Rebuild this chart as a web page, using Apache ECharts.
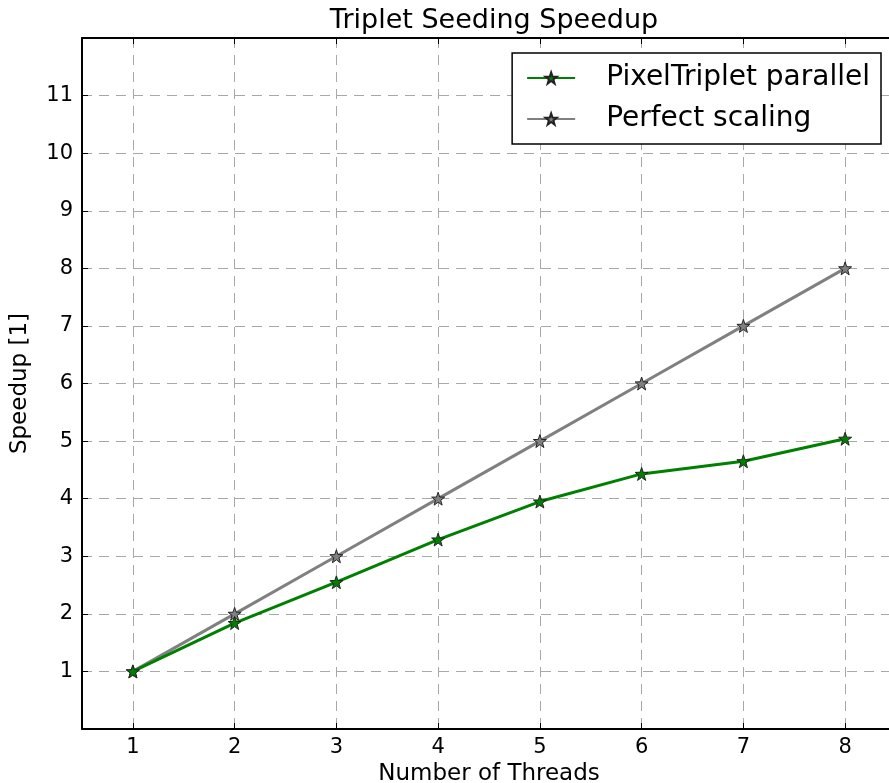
<!DOCTYPE html>
<html>
<head>
<meta charset="utf-8">
<script src="https://cdn.jsdelivr.net/npm/echarts@6/dist/echarts.min.js"></script>
<style>
  html, body { margin: 0; padding: 0; background: #fff; overflow: hidden; }
  #chart { width: 1000px; height: 783px; }
</style>
</head>
<body>
<div id="chart"></div>
<script>
const threads = [1, 2, 3, 4, 5, 6, 7, 8]
const pixelTriplet = [1.0, 1.84, 2.55, 3.29, 3.95, 4.43, 4.65, 5.04]
const perfect = [1, 2, 3, 4, 5, 6, 7, 8]
const yTicks = [1, 2, 3, 4, 5, 6, 7, 8, 9, 10, 11]

const font = 'DejaVu Sans'
const star = 'path://M0,-10L2.35,-3.24L9.51,-3.09L3.8,1.24L5.88,8.09L0,4L-5.88,8.09L-3.8,1.24L-9.51,-3.09L-2.35,-3.24Z'

const chart = echarts.init(document.getElementById('chart'))

// matplotlib-style dashed grid and inward ticks
const gridLine = { show: true, lineStyle: { color: '#a8a8a8', type: [10, 7], width: 1 } }
const tick = { show: true, inside: true, length: 6, lineStyle: { color: '#000', width: 1 } }

chart.setOption({
  animation: false,
  title: {
    text: 'Triplet Seeding Speedup',
    left: 489,
    textAlign: 'center',
    top: 2,
    textStyle: { fontFamily: font, fontSize: 27, fontWeight: 'normal', color: '#000' }
  },
  legend: {
    orient: 'vertical',
    right: 119,
    top: 53,
    padding: [10, 11, 10, 14],
    itemGap: 11,
    itemWidth: 48,
    itemHeight: 14,
    borderColor: '#000',
    borderWidth: 1.5,
    borderRadius: 0,
    backgroundColor: '#fff',
    textStyle: { fontFamily: font, fontSize: 28, lineHeight: 30, color: '#000', padding: [0, 0, 0, 26] },
    data: ['PixelTriplet parallel', 'Perfect scaling']
  },
  // plot runs past the right edge of the window, like the cropped original
  grid: { left: 82, right: 104, top: 38, bottom: 54, outerBoundsMode: 'none' },
  xAxis: [
    {
      type: 'value',
      min: 0.5,
      max: 8.5,
      name: 'Number of Threads',
      nameLocation: 'middle',
      nameGap: 32,
      nameTextStyle: { fontFamily: font, fontSize: 23, color: '#000' },
      axisLine: { lineStyle: { color: '#000', width: 2 } },
      axisTick: Object.assign({}, tick, { customValues: threads }),
      axisLabel: { customValues: threads, fontFamily: font, fontSize: 21, color: '#000', margin: 8 },
      splitLine: gridLine
    },
    {
      type: 'value',
      position: 'top',
      min: 0.5,
      max: 8.5,
      axisLine: { show: true, lineStyle: { color: '#000', width: 2 } },
      axisTick: Object.assign({}, tick, { customValues: threads }),
      axisLabel: { show: false },
      splitLine: { show: false }
    }
  ],
  yAxis: {
    type: 'value',
    min: 0,
    max: 12,
    interval: 1,
    name: 'Speedup [1]',
    nameLocation: 'middle',
    nameGap: 50,
    nameTextStyle: { fontFamily: font, fontSize: 23, color: '#000' },
    axisLine: { show: true, lineStyle: { color: '#000', width: 2 } },
    axisTick: tick,
    axisLabel: {
      fontFamily: font, fontSize: 21, color: '#000', margin: 9,
      formatter: (v) => (yTicks.includes(v) ? String(v) : '')
    },
    splitLine: gridLine
  },
  series: [
    {
      name: 'PixelTriplet parallel',
      type: 'line',
      data: threads.map((t, i) => [t, pixelTriplet[i]]),
      symbol: star,
      symbolSize: 13,
      z: 3,
      lineStyle: { color: '#008000', width: 3 },
      itemStyle: { color: '#008000', borderColor: '#222', borderWidth: 1 }
    },
    {
      name: 'Perfect scaling',
      type: 'line',
      data: threads.map((t, i) => [t, perfect[i]]),
      symbol: star,
      symbolSize: 13,
      z: 2,
      lineStyle: { color: '#808080', width: 3 },
      itemStyle: { color: '#808080', borderColor: '#222', borderWidth: 1 }
    }
  ]
})
</script>
</body>
</html>
